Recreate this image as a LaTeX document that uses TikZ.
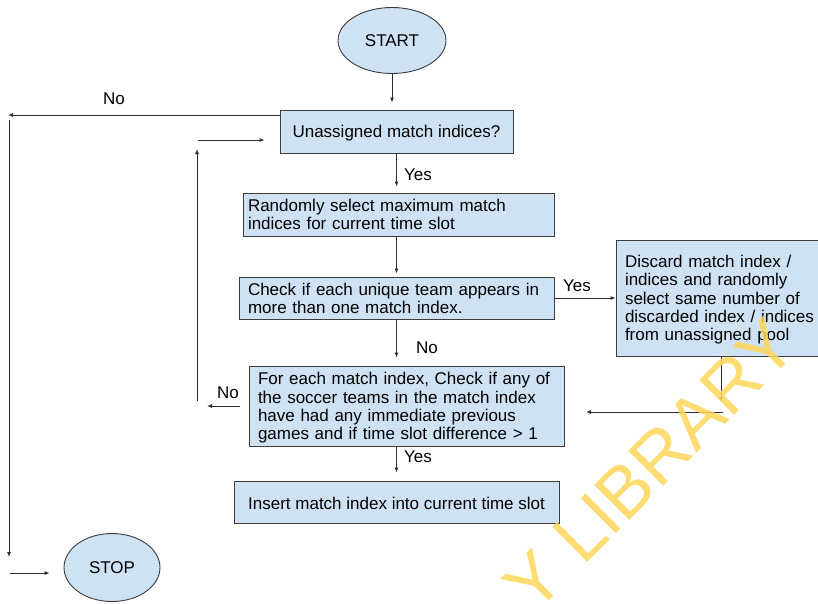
\documentclass[tikz,border=0pt]{standalone}
\usepackage{fontspec}
\setmainfont{Liberation Sans}
\usetikzlibrary{arrows.meta,shapes.geometric,calc}
\definecolor{boxfill}{RGB}{207,226,243}
\definecolor{boxline}{RGB}{60,60,60}
\definecolor{wline}{RGB}{45,45,45}
\definecolor{wmark}{RGB}{255,214,90}
\newcommand{\lines}[1]{\raisebox{-2.5pt}[\height][\depth]{\begin{tabular}{@{}l@{}}#1\end{tabular}}}
\tikzset{
  base/.style={draw=boxline, fill=boxfill, line width=0.9pt, font=\fontsize{17}{18.3}\selectfont, inner sep=0pt},
  procbox/.style={base, rectangle},
  term/.style={base, ellipse},
  conn/.style={draw=wline, line width=0.9pt, -{Latex[length=5pt,width=4pt]}},
  lbl/.style={font=\fontsize{17}{18.3}\selectfont, inner sep=0pt, text=black},
}
\begin{document}
\begin{tikzpicture}[x=1pt,y=-1pt]
\useasboundingbox (0,0) rectangle (818,603);
\fill[white] (0,0) rectangle (818,603);

% nodes
\node[term, minimum width=108pt, minimum height=66pt] (start) at (392,40.5) {START};
\node[procbox, minimum width=233pt, minimum height=43pt] (q1) at (396.5,131.5) {\raisebox{-1.5pt}[\height][\depth]{Unassigned match indices?}};
\node[procbox, minimum width=311pt, minimum height=43pt, text width=301pt, align=left] (sel) at (398.5,214.5) {\lines{Randomly select maximum match\\indices for current time slot}};
\node[procbox, minimum width=315pt, minimum height=42pt, text width=297pt, align=left] (chk) at (396.5,298) {\lines{Check if each unique team appears in\\more than one match index.}};
\node[procbox, minimum width=210pt, minimum height=116pt, text width=192pt, align=left] (disc) at (721,298) {\lines{Discard match index /\\indices and randomly\\select same number of\\discarded index / indices\\from unassigned pool}};
\node[procbox, minimum width=315pt, minimum height=80pt, text width=297pt, align=left] (q4) at (406.5,406) {\lines{For each match index, Check if any of\\the soccer teams in the match index\\have had any immediate previous\\games and if time slot difference > 1}};
\node[procbox, minimum width=325pt, minimum height=42pt] (ins) at (396.5,502) {\raisebox{-1pt}[\height][\depth]{Insert match index into current time slot}};
\node[term, minimum width=96pt, minimum height=68pt] (stop) at (112,567.5) {STOP};

% free ends
\coordinate (r1) at (723,412);
\coordinate (r0) at (586,412);
\coordinate (n2) at (207,407);
\coordinate (l1) at (197,401);
\coordinate (l2) at (197,149);
\coordinate (l3) at (198,140);
\coordinate (tl) at (8,115);
\coordinate (v1) at (9,120);
\coordinate (v2) at (9,557);
\coordinate (s1) at (10,573);

% connectors
\draw[conn, shorten >=7pt] (start.south) -- (start.south |- q1.north);
\draw[conn, shorten >=6pt] (q1.south) -- (q1.south |- sel.north);
\draw[conn, shorten >=3pt] (q1.south |- sel.south) -- (q1.south |- chk.north);
\draw[conn, shorten >=8pt] (q1.south |- chk.south) -- (q1.south |- q4.north);
\draw[conn] (chk.east) -- (chk.east -| disc.west);
\draw[conn, shorten >=10pt] (disc.south) -- (disc.south |- r1);
\draw[conn] (r1) -- (r0);
\draw[conn, shorten <=9pt] (q4.west) -- (q4.west -| n2);
\draw[conn] (l1) -- (l2);
\draw[conn, shorten >=15pt] (l3) -- (l3 -| q1.west);
\draw[conn] ([yshift=16.5pt]q1.west) -- (tl);
\draw[conn] (v1) -- (v2);
\draw[conn, shorten >=14pt] (s1) -- (s1 -| stop.west);
\draw[conn, shorten >=8pt] (q1.south |- q4.south) -- (q1.south |- ins.north);

% labels
\node[lbl] (lno1) at (114,99) {No};
\node[lbl] (lyes1) at (418,175) {Yes};
\node[lbl] (lyes2) at (577,286) {Yes};
\node[lbl] (lno2) at (427,348) {No};
\node[lbl] (lno3) at (228,393) {No};
\node[lbl] (lyes3) at (418,457) {Yes};

% watermark
\node[font=\fontsize{72}{72}\selectfont, text=wmark, rotate=45, opacity=0.85, inner sep=0pt] (wm) at (650,465) {Y LIBRARY};
\end{tikzpicture}
\end{document}
